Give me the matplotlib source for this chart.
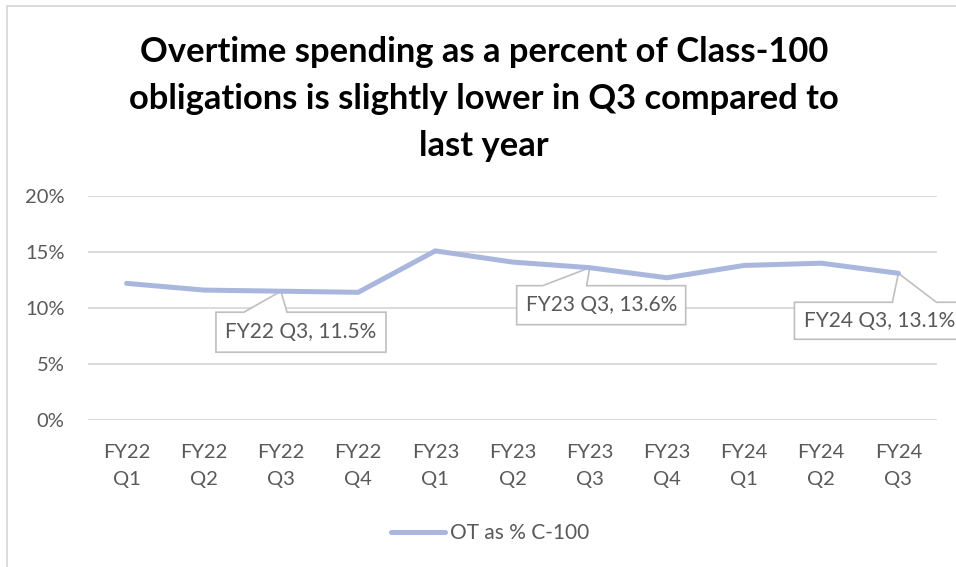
import matplotlib
matplotlib.use("Agg")
import matplotlib.pyplot as plt
import matplotlib.transforms as mtransforms
from matplotlib.patches import Polygon, Rectangle

# data
quarters = ["FY22\nQ1", "FY22\nQ2", "FY22\nQ3", "FY22\nQ4", "FY23\nQ1", "FY23\nQ2",
            "FY23\nQ3", "FY23\nQ4", "FY24\nQ1", "FY24\nQ2", "FY24\nQ3"]
ot_pct = [12.2, 11.6, 11.5, 11.4, 15.1, 14.1, 13.6, 12.7, 13.8, 14.0, 13.1]
callout_idx = [2, 6, 10]
callout_names = ["FY22 Q3", "FY23 Q3", "FY24 Q3"]
series_name = "OT as % C-100"
title = ("Overtime spending as a percent of Class-100\n"
         "obligations is slightly lower in Q3 compared to\n"
         "last year")

# callout box geometry in pixels relative to the data point (dx left/right, dy downwards)
# (box_left, box_right, box_top, box_bottom, wedge_left, wedge_right)
callout_geom = [
    (-65, 105, 21, 61, -37, 6),
    (-73, 96, 18, 57, -47, -3),
    (-104, 66, 29, 66, -6, 38),
]

W, H = 956, 567
LINE = "#A9B6DD"
GRID = "#D9D9D9"
TXT = "#595959"
plt.rcParams["font.family"] = ["Lato", "DejaVu Sans"]

fig = plt.figure(figsize=(W / 100, H / 100), dpi=100)
ax = fig.add_axes([88 / W, 1 - 420 / H, (937 - 88) / W, (420 - 196) / H])

x = list(range(len(quarters)))
ax.plot(x, ot_pct, color=LINE, lw=3.6, solid_capstyle="round", zorder=3)

ax.set_xlim(-0.5, len(quarters) - 0.5)
ax.set_ylim(0, 20)
ax.set_yticks([0, 5, 10, 15, 20])
ax.set_yticklabels([f"{v}%" for v in [0, 5, 10, 15, 20]])
ax.set_xticks(x)
ax.set_xticklabels(quarters, linespacing=1.75)
ax.tick_params(axis="both", length=0, labelsize=14.5, labelcolor=TXT)
ax.tick_params(axis="y", pad=17)
ax.tick_params(axis="x", pad=17)
for s in ax.spines.values():
    s.set_visible(False)
ax.yaxis.grid(True, color=GRID, lw=1.3)
ax.set_axisbelow(True)

# Excel-style wedge callouts, drawn in pixel coordinates
ident = mtransforms.IdentityTransform()
for k, i in enumerate(callout_idx):
    px, py = ax.transData.transform((i, ot_pct[i]))
    bl, br, bt, bb, wl, wr = callout_geom[k]
    verts = [(px + bl, py - bt), (px + wl, py - bt), (px, py), (px + wr, py - bt),
             (px + br, py - bt), (px + br, py - bb), (px + bl, py - bb)]
    ax.add_patch(Polygon(verts, closed=True, facecolor="white", edgecolor="#BFBFBF",
                         lw=1.2, transform=ident, clip_on=False, zorder=2))
    ax.text(px + (bl + br) / 2, py - (bt + bb) / 2, f"{callout_names[k]}, {ot_pct[i]}%",
            transform=ident, ha="center", va="center", fontsize=15, color=TXT,
            clip_on=False, zorder=2.5)

fig.text(484 / W, 1 - 36 / H, title, ha="center", va="top", fontsize=24.8,
         fontweight="bold", color="black", linespacing=1.58)

leg = fig.legend([plt.Line2D([], [], color=LINE, lw=3.6, solid_capstyle="round")],
                 [series_name], loc="center", bbox_to_anchor=(490 / W, 1 - 533 / H),
                 frameon=False, fontsize=15, handlelength=2.6, handletextpad=0.2)
for t in leg.get_texts():
    t.set_color(TXT)

# chart area border (right and bottom edges are cropped in the reference)
fig.add_artist(Rectangle((7 / W, -0.1), 2, 1 - 6 / H + 0.1, transform=fig.transFigure,
                         fill=False, edgecolor=GRID, lw=1.3))

fig.savefig("out.png", dpi=100)
